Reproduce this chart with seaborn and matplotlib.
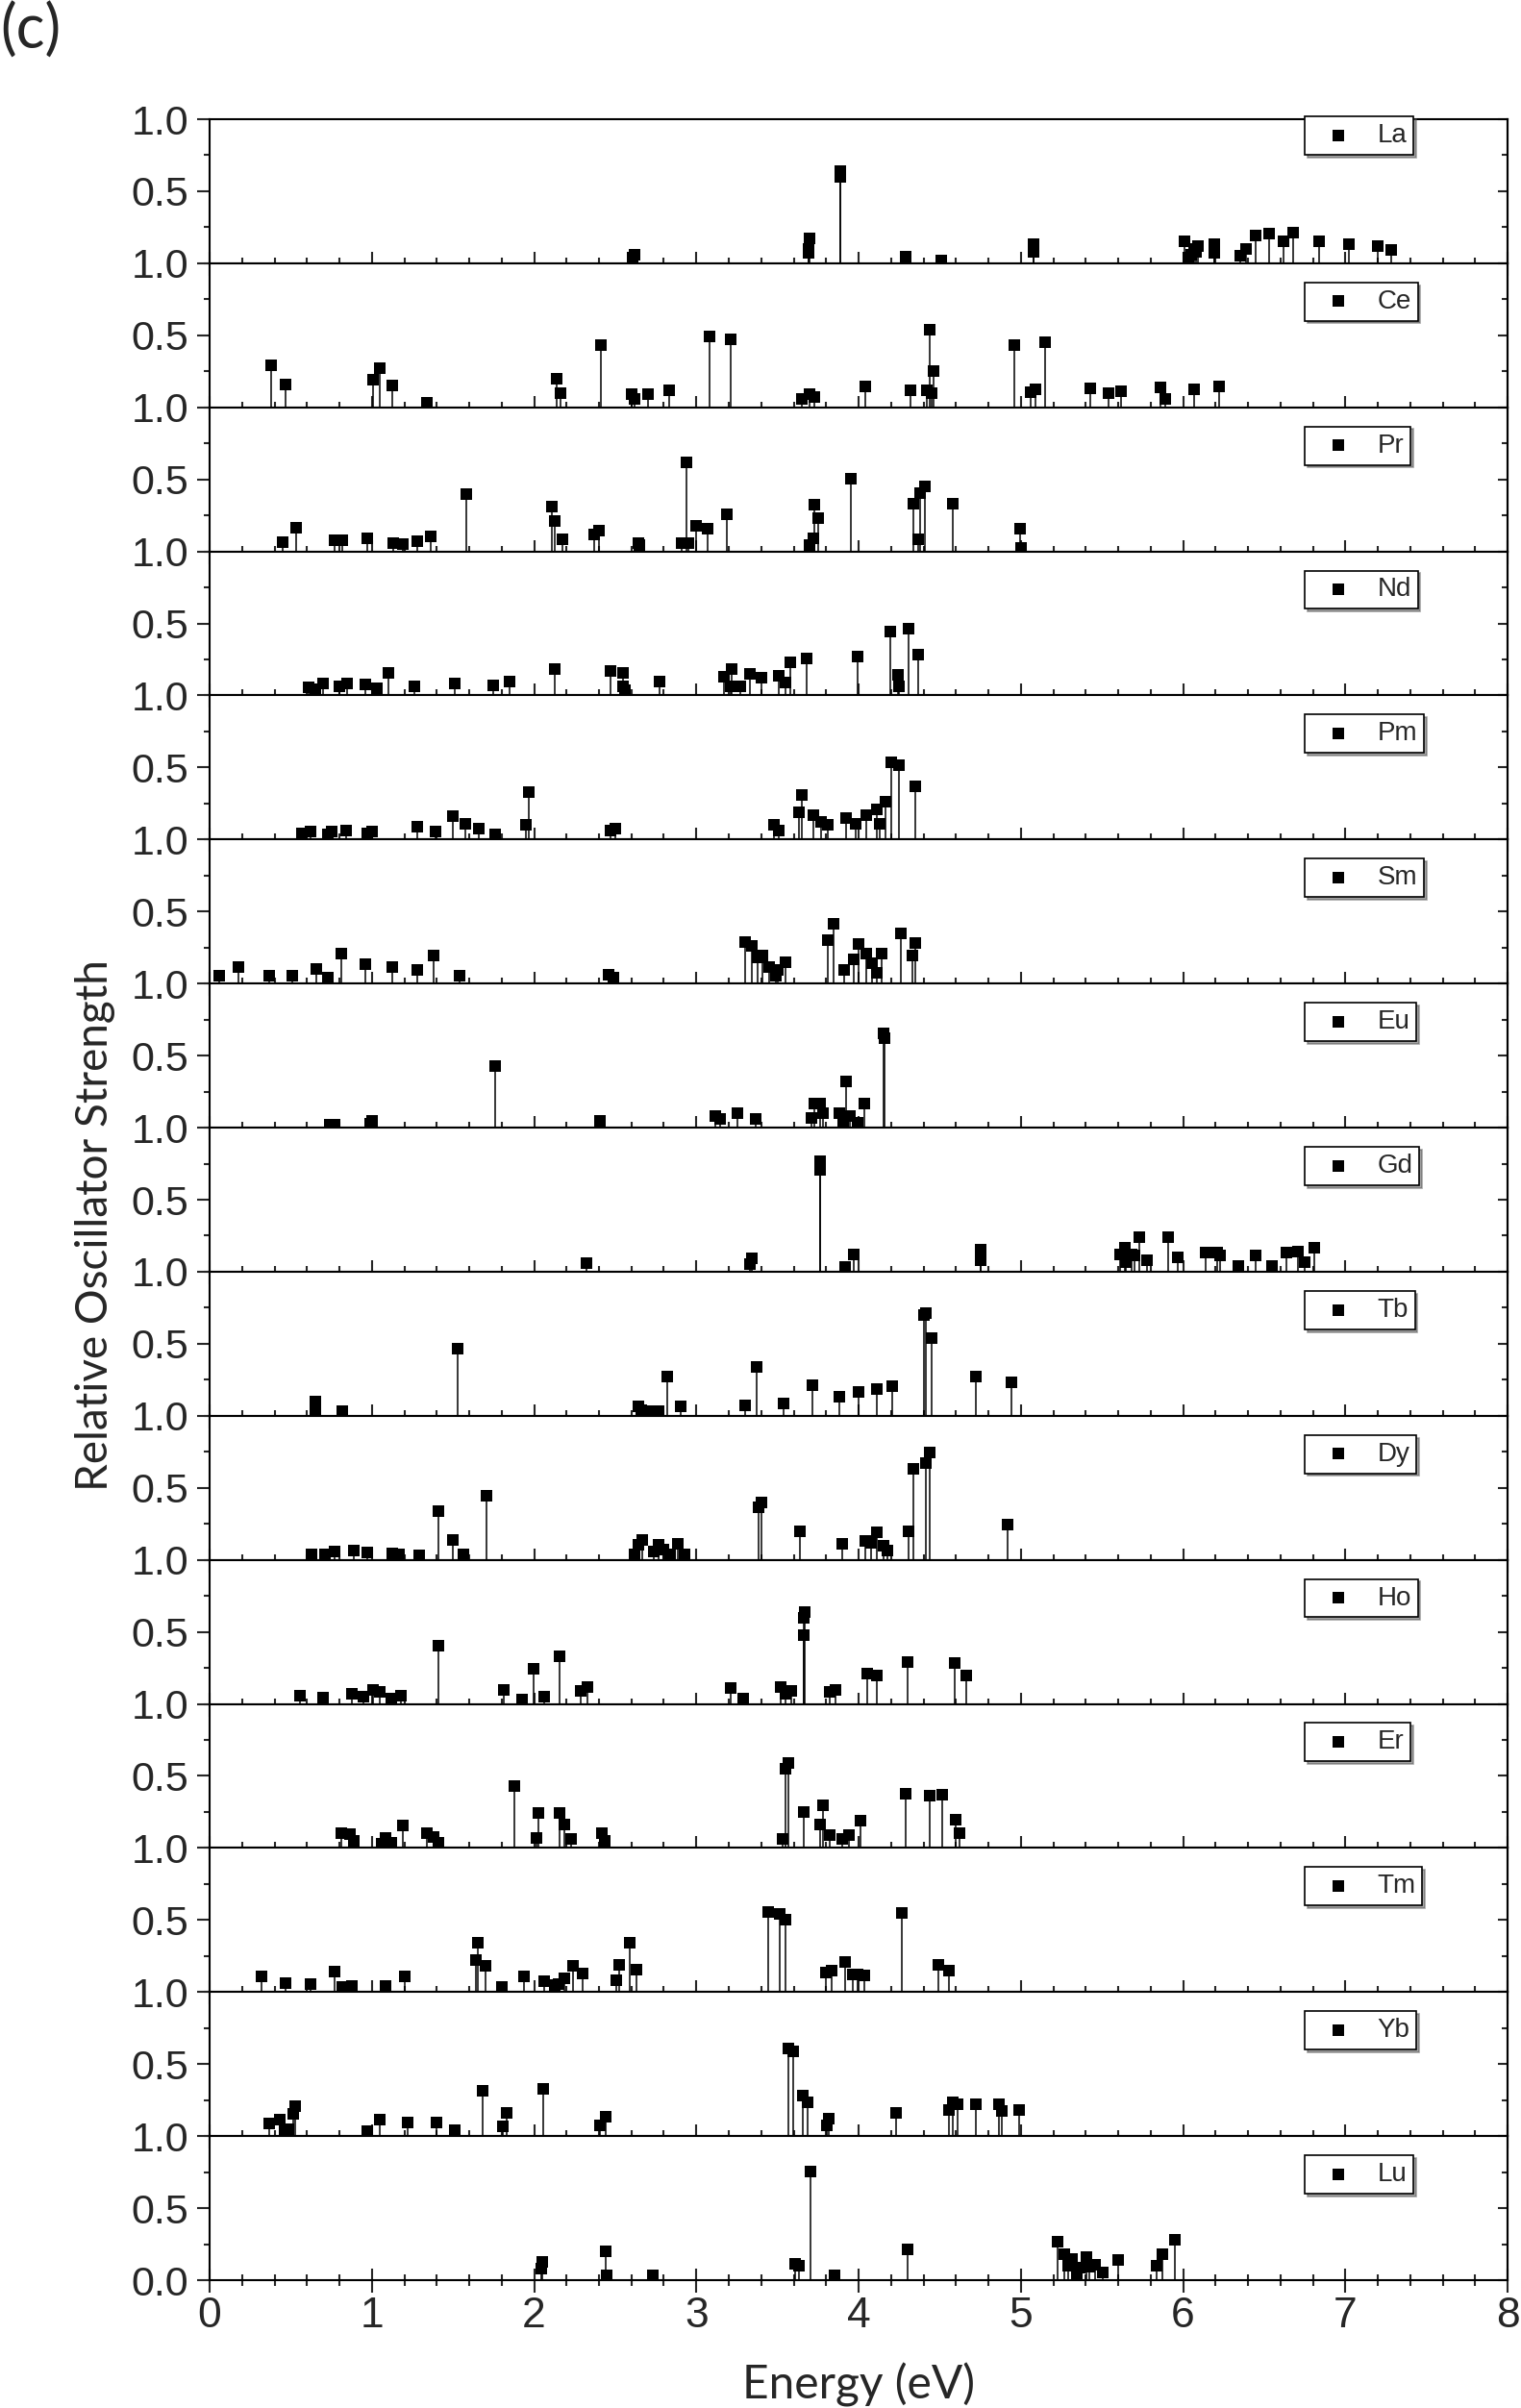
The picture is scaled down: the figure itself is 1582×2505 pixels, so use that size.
import matplotlib
matplotlib.use("Agg")
import matplotlib.pyplot as plt
from matplotlib.ticker import MultipleLocator, FixedLocator
import seaborn as sns

# ---------------- data (energy in eV, relative oscillator strength) ----------------
ELEMENTS = ["La", "Ce", "Pr", "Nd", "Pm", "Sm", "Eu", "Gd", "Tb", "Dy", "Ho", "Er", "Tm", "Yb", "Lu"]

LA_E = [2.61, 2.62, 3.69, 3.70, 3.69, 3.89, 3.89, 4.29, 4.51, 5.08, 5.08, 6.01, 6.03, 6.05, 6.07, 6.08, 6.09,
        6.19, 6.19, 6.35, 6.39, 6.45, 6.53, 6.62, 6.68, 6.84, 7.02, 7.20, 7.28]
LA_F = [0.04, 0.06, 0.10, 0.17, 0.07, 0.64, 0.60, 0.045, 0.02, 0.13, 0.08, 0.155, 0.04, 0.06, 0.10, 0.08, 0.12,
        0.13, 0.07, 0.055, 0.10, 0.195, 0.205, 0.15, 0.215, 0.15, 0.13, 0.12, 0.095]

CE_E = [0.38, 0.47, 1.005, 1.05, 1.125, 1.34, 2.14, 2.16, 2.41, 2.60, 2.62, 2.70, 2.83, 3.08, 3.21, 3.65, 3.70,
        3.73, 4.04, 4.32, 4.42, 4.44, 4.45, 4.46, 4.96, 5.06, 5.09, 5.15, 5.43, 5.54, 5.62, 5.86, 5.89, 6.07, 6.22]
CE_F = [0.29, 0.16, 0.19, 0.27, 0.15, 0.03, 0.20, 0.10, 0.43, 0.09, 0.055, 0.09, 0.12, 0.49, 0.47, 0.055, 0.09,
        0.07, 0.145, 0.12, 0.12, 0.54, 0.10, 0.25, 0.43, 0.105, 0.125, 0.455, 0.13, 0.095, 0.11, 0.14, 0.06, 0.125, 0.145]

PR_E = [0.45, 0.535, 0.77, 0.82, 0.97, 1.13, 1.19, 1.28, 1.36, 1.585, 2.11, 2.13, 2.175, 2.37, 2.40, 2.64, 2.65,
        2.91, 2.94, 2.95, 3.00, 3.07, 3.19, 3.70, 3.72, 3.73, 3.75, 3.95, 4.34, 4.37, 4.38, 4.41, 4.58, 4.995, 5.00]
PR_F = [0.067, 0.165, 0.08, 0.08, 0.09, 0.055, 0.05, 0.07, 0.105, 0.395, 0.31, 0.21, 0.085, 0.12, 0.145, 0.06, 0.045,
        0.055, 0.62, 0.06, 0.18, 0.155, 0.255, 0.045, 0.09, 0.325, 0.23, 0.505, 0.33, 0.085, 0.405, 0.45, 0.33, 0.155, 0.025]

ND_E = [0.61, 0.65, 0.70, 0.80, 0.85, 0.96, 1.03, 1.10, 1.26, 1.51, 1.75, 1.85, 2.13, 2.47, 2.55, 2.55, 2.56,
        2.775, 3.17, 3.21, 3.22, 3.27, 3.33, 3.40, 3.51, 3.55, 3.58, 3.68, 3.995, 4.195, 4.24, 4.25, 4.31, 4.37]
ND_F = [0.055, 0.045, 0.08, 0.065, 0.08, 0.075, 0.05, 0.155, 0.065, 0.08, 0.07, 0.095, 0.185, 0.17, 0.155, 0.065, 0.035,
        0.095, 0.13, 0.065, 0.185, 0.065, 0.15, 0.12, 0.135, 0.09, 0.23, 0.255, 0.27, 0.445, 0.145, 0.065, 0.465, 0.285]

PM_E = [0.57, 0.625, 0.73, 0.75, 0.84, 0.97, 1.00, 1.28, 1.39, 1.50, 1.575, 1.66, 1.76, 1.95, 1.97, 2.47, 2.50,
        3.48, 3.51, 3.63, 3.65, 3.72, 3.77, 3.81, 3.92, 3.98, 4.045, 4.11, 4.13, 4.165, 4.20, 4.25, 4.35]
PM_F = [0.045, 0.053, 0.033, 0.055, 0.06, 0.045, 0.053, 0.09, 0.053, 0.165, 0.11, 0.075, 0.038, 0.105, 0.33, 0.06, 0.075,
        0.10, 0.06, 0.19, 0.31, 0.17, 0.125, 0.105, 0.15, 0.11, 0.17, 0.21, 0.11, 0.265, 0.535, 0.515, 0.37]

SM_E = [0.06, 0.175, 0.37, 0.51, 0.655, 0.73, 0.81, 0.96, 1.125, 1.28, 1.38, 1.54, 2.46, 2.49, 3.30, 3.34, 3.38,
        3.41, 3.45, 3.49, 3.50, 3.55, 3.81, 3.845, 3.91, 3.97, 4.00, 4.045, 4.085, 4.11, 4.14, 4.26, 4.33, 4.35]
SM_F = [0.055, 0.115, 0.053, 0.055, 0.10, 0.04, 0.205, 0.135, 0.115, 0.095, 0.195, 0.055, 0.06, 0.042, 0.285, 0.26, 0.18,
        0.195, 0.115, 0.055, 0.095, 0.15, 0.30, 0.415, 0.095, 0.165, 0.275, 0.205, 0.14, 0.075, 0.205, 0.35, 0.195, 0.28]

EU_E = [0.74, 0.77, 0.99, 1.0, 1.76, 2.405, 3.115, 3.145, 3.255, 3.365, 3.71, 3.73, 3.76, 3.78, 3.88, 3.905,
        3.92, 3.945, 3.997, 4.035, 4.155, 4.16]
EU_F = [0.022, 0.022, 0.03, 0.05, 0.425, 0.05, 0.078, 0.06, 0.10, 0.06, 0.067, 0.167, 0.167, 0.10, 0.10, 0.044,
        0.32, 0.078, 0.033, 0.17, 0.655, 0.62]

GD_E = [2.32, 3.33, 3.34, 3.76, 3.76, 3.915, 3.97, 4.75, 4.75, 5.61, 5.64, 5.65, 5.68, 5.70, 5.73, 5.78, 5.91,
        5.97, 6.14, 6.21, 6.23, 6.34, 6.45, 6.55, 6.635, 6.71, 6.75, 6.81]
GD_F = [0.062, 0.055, 0.09, 0.77, 0.71, 0.033, 0.118, 0.15, 0.078, 0.122, 0.167, 0.067, 0.122, 0.11, 0.24, 0.078, 0.238,
        0.10, 0.13, 0.13, 0.11, 0.038, 0.115, 0.038, 0.133, 0.138, 0.067, 0.167]

TB_E = [0.65, 0.65, 0.82, 1.53, 2.64, 2.66, 2.70, 2.765, 2.82, 2.905, 3.30, 3.37, 3.54, 3.715, 3.88, 4.00, 4.11,
        4.21, 4.40, 4.415, 4.45, 4.72, 4.94]
TB_F = [0.098, 0.04, 0.03, 0.465, 0.065, 0.042, 0.03, 0.035, 0.275, 0.065, 0.075, 0.338, 0.087, 0.21, 0.13, 0.165, 0.187,
        0.205, 0.70, 0.71, 0.54, 0.27, 0.235]

DY_E = [0.63, 0.71, 0.77, 0.89, 0.97, 1.125, 1.17, 1.29, 1.41, 1.50, 1.565, 1.705, 2.62, 2.64, 2.665, 2.74, 2.765,
        2.80, 2.84, 2.885, 2.93, 3.385, 3.40, 3.64, 3.90, 4.04, 4.075, 4.11, 4.155, 4.18, 4.31, 4.34, 4.415, 4.44, 4.92]
DY_F = [0.04, 0.04, 0.055, 0.062, 0.05, 0.047, 0.04, 0.033, 0.335, 0.14, 0.04, 0.445, 0.04, 0.107, 0.14, 0.055, 0.107,
        0.073, 0.04, 0.11, 0.04, 0.367, 0.40, 0.20, 0.11, 0.13, 0.118, 0.19, 0.095, 0.062, 0.20, 0.635, 0.673, 0.745, 0.245]

HO_E = [0.555, 0.70, 0.875, 0.95, 1.005, 1.05, 1.12, 1.18, 1.41, 1.815, 1.925, 1.995, 2.06, 2.155, 2.29, 2.33,
        3.21, 3.29, 3.52, 3.55, 3.585, 3.66, 3.665, 3.67, 3.825, 3.86, 4.055, 4.11, 4.305, 4.59, 4.665]
HO_F = [0.06, 0.042, 0.067, 0.053, 0.10, 0.082, 0.038, 0.055, 0.405, 0.10, 0.033, 0.245, 0.049, 0.33, 0.093, 0.115,
        0.11, 0.038, 0.12, 0.071, 0.093, 0.48, 0.60, 0.64, 0.082, 0.10, 0.21, 0.20, 0.293, 0.282, 0.20]

ER_E = [0.81, 0.865, 0.89, 1.06, 1.085, 1.12, 1.19, 1.34, 1.38, 1.41, 1.88, 2.015, 2.025, 2.155, 2.185, 2.23,
        2.415, 2.435, 3.53, 3.55, 3.565, 3.66, 3.76, 3.78, 3.82, 3.90, 3.94, 4.01, 4.29, 4.44, 4.515, 4.60, 4.62]
ER_F = [0.105, 0.098, 0.049, 0.031, 0.071, 0.038, 0.155, 0.105, 0.078, 0.038, 0.433, 0.071, 0.245, 0.242, 0.16, 0.06,
        0.105, 0.049, 0.06, 0.55, 0.593, 0.25, 0.16, 0.293, 0.087, 0.064, 0.087, 0.187, 0.375, 0.36, 0.367, 0.198, 0.105]

TM_E = [0.32, 0.47, 0.625, 0.77, 0.82, 0.875, 1.085, 1.205, 1.64, 1.655, 1.70, 1.80, 1.935, 2.06, 2.13, 2.15,
        2.185, 2.24, 2.30, 2.505, 2.525, 2.59, 2.63, 3.445, 3.515, 3.55, 3.80, 3.835, 3.915, 3.965, 3.995, 4.035,
        4.265, 4.49, 4.56]
TM_F = [0.109, 0.064, 0.053, 0.14, 0.036, 0.042, 0.042, 0.109, 0.224, 0.34, 0.184, 0.036, 0.107, 0.073, 0.047, 0.058,
        0.096, 0.18, 0.129, 0.084, 0.191, 0.34, 0.158, 0.553, 0.54, 0.502, 0.136, 0.147, 0.209, 0.124, 0.124, 0.113,
        0.547, 0.187, 0.147]

YB_E = [0.365, 0.43, 0.46, 0.485, 0.515, 0.53, 0.97, 1.05, 1.22, 1.40, 1.51, 1.68, 1.805, 1.83, 2.055, 2.405,
        2.44, 3.57, 3.595, 3.655, 3.685, 3.805, 3.815, 4.23, 4.555, 4.58, 4.61, 4.72, 4.865, 4.885, 4.99]
YB_F = [0.087, 0.113, 0.047, 0.047, 0.153, 0.209, 0.036, 0.113, 0.096, 0.096, 0.04, 0.316, 0.069, 0.158, 0.331, 0.076,
        0.136, 0.607, 0.591, 0.284, 0.236, 0.076, 0.124, 0.158, 0.184, 0.236, 0.22, 0.22, 0.22, 0.173, 0.184]

LU_E = [2.045, 2.05, 2.44, 2.445, 2.73, 3.61, 3.63, 3.705, 3.85, 4.305, 5.225, 5.27, 5.29, 5.315, 5.345, 5.36,
        5.405, 5.42, 5.46, 5.505, 5.60, 5.835, 5.87, 5.95]
LU_F = [0.08, 0.13, 0.20, 0.033, 0.033, 0.111, 0.10, 0.755, 0.033, 0.211, 0.267, 0.182, 0.10, 0.144, 0.044, 0.089,
        0.162, 0.093, 0.104, 0.056, 0.138, 0.10, 0.178, 0.278]

SERIES = [(LA_E, LA_F), (CE_E, CE_F), (PR_E, PR_F), (ND_E, ND_F), (PM_E, PM_F), (SM_E, SM_F), (EU_E, EU_F),
          (GD_E, GD_F), (TB_E, TB_F), (DY_E, DY_F), (HO_E, HO_F), (ER_E, ER_F), (TM_E, TM_F), (YB_E, YB_F),
          (LU_E, LU_F)]

X_TICKS = [0, 1, 2, 3, 4, 5, 6, 7, 8]
X_TICK_LABELS = ["0", "1", "2", "3", "4", "5", "6", "7", "8"]
XLABEL = "Energy (eV)"
YLABEL = "Relative Oscillator Strength"
PANEL_TAG = "(c)"

# ---------------- style ----------------
sns.set_style("ticks")
plt.rcParams["font.family"] = ["Liberation Sans", "DejaVu Sans"]
plt.rcParams["axes.linewidth"] = 1.5

W, H = 1582, 2505
fig = plt.figure(figsize=(W / 100, H / 100), dpi=100)
axes = fig.subplots(len(ELEMENTS), 1, sharex=True)
fig.subplots_adjust(left=218 / W, right=1568 / W, top=1 - 124 / H, bottom=1 - 2372 / H, hspace=0)

n = len(ELEMENTS)
for i, (ax, name, (ex, fx)) in enumerate(zip(axes, ELEMENTS, SERIES)):
    assert len(ex) == len(fx), name
    last = (i == n - 1)
    ax.vlines(ex, 0, fx, color="black", linewidth=1.1, zorder=2)
    sns.scatterplot(x=ex, y=fx, marker="s", s=78, color="black", edgecolor="black", linewidth=0,
                    label=name, ax=ax, zorder=3)
    ax.set_xlim(0, 8)
    ax.set_ylim(0, 1.0)
    ax.set_ylabel("")
    ax.set_xlabel("")

    # y axis (left ticks out)
    if last:
        ax.yaxis.set_major_locator(FixedLocator([0.0, 0.5, 1.0]))
        ax.set_yticklabels(["0.0", "0.5", "1.0"])
    else:
        ax.yaxis.set_major_locator(FixedLocator([0.5, 1.0]))
        ax.set_yticklabels(["0.5", "1.0"])
    ax.yaxis.set_minor_locator(MultipleLocator(0.25))
    ax.tick_params(axis="y", which="major", direction="out", length=9.5, width=1.5,
                   labelsize=31, pad=6, left=True, right=False)
    ax.tick_params(axis="y", which="minor", direction="out", length=4.5, width=1.5, left=True, right=False)

    # right side ticks pointing in
    sec = ax.secondary_yaxis("right")
    sec.yaxis.set_major_locator(FixedLocator([0.0, 0.5, 1.0]))
    sec.yaxis.set_minor_locator(MultipleLocator(0.25))
    sec.tick_params(axis="y", which="major", direction="in", length=7, width=1.5, labelright=False)
    sec.tick_params(axis="y", which="minor", direction="in", length=4.5, width=1.5, labelright=False)
    sec.spines["right"].set_linewidth(1.5)

    # x axis: ticks crossing the axis line
    ax.xaxis.set_major_locator(FixedLocator(X_TICKS))
    ax.xaxis.set_minor_locator(MultipleLocator(0.2))
    ax.tick_params(axis="x", which="major", direction="inout", length=18, width=1.5, top=False,
                   bottom=True, labelbottom=last, labelsize=32, pad=3)
    ax.tick_params(axis="x", which="minor", direction="inout", length=9, width=1.5, top=False, bottom=True)
    if last:
        ax.set_xticklabels(X_TICK_LABELS)

    for s in ax.spines.values():
        s.set_linewidth(1.5)
        s.set_visible(True)
        s.set_color("black")

    # legend box in the upper right
    ytop = 1.02 if i == 0 else 0.867
    leg = ax.legend(loc="upper left", bbox_to_anchor=(0.844, ytop), borderaxespad=0,
                    frameon=True, fancybox=False, edgecolor="black", framealpha=1,
                    fontsize=20, handlelength=2.0, handletextpad=0.45, borderpad=0.25,
                    shadow=True)
    leg.get_frame().set_linewidth(1.2)
    leg.set_zorder(5)

fig.text(99 / W, 1 - 1275 / H, YLABEL, rotation=90, ha="center", va="center",
         fontsize=33, family=["Lato", "DejaVu Sans"])
fig.text(893 / W, 1 - 2481 / H, XLABEL, ha="center", va="center",
         fontsize=34.5, family=["Lato", "DejaVu Sans"])
fig.text(0.0, 0.999, PANEL_TAG, ha="left", va="top", fontsize=45, family=["Lato", "DejaVu Sans"])

fig.savefig("out.png", dpi=100, facecolor="white")
